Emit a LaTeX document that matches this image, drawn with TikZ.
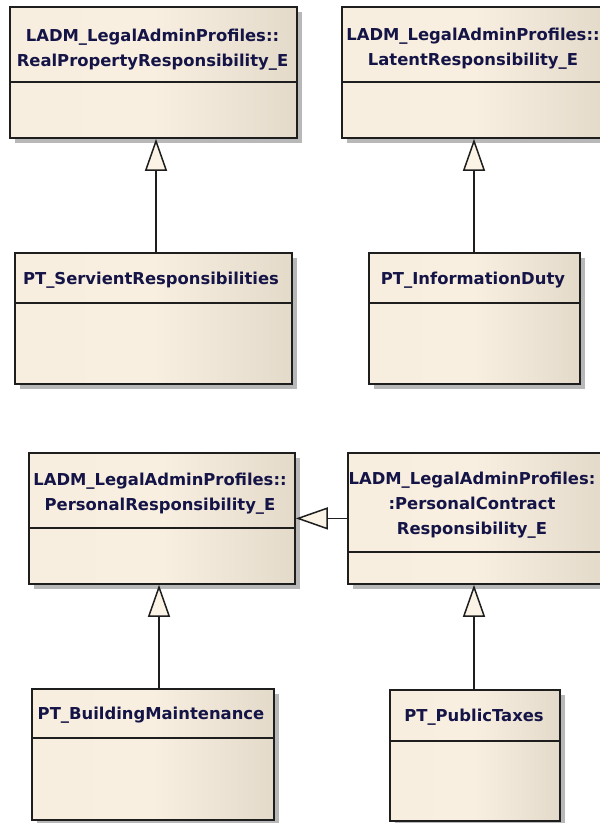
\documentclass[tikz,border=0pt]{standalone}
\usepackage{fontspec}
\setmainfont{DejaVu Sans}
\usetikzlibrary{arrows.meta,shadows,calc}
\definecolor{creamleft}{HTML}{F8EEDF}
\definecolor{creammid}{HTML}{F9EFE1}
\definecolor{creamdark}{HTML}{E4DACA}
\definecolor{tipfill}{HTML}{FBF3E6}
\definecolor{txt}{HTML}{141446}
\definecolor{shadowgray}{HTML}{B8B8B8}
\definecolor{edge}{HTML}{1E1E1E}
\begin{document}
\begin{tikzpicture}[x=1pt,y=-1pt,
  cls/.style={draw=edge, line width=1.8pt, left color=creamleft, right color=creamdark, middle color=creammid,
    anchor=north west, inner sep=0pt,
    drop shadow={shadow xshift=5pt, shadow yshift=-5pt, fill=shadowgray, opacity=1}},
  lbl/.style={text=txt, font=\fontsize{16.4}{25}\selectfont\bfseries, align=center, inner sep=0pt},
  divline/.style={draw=edge, line width=1.5pt},
  gen/.style={draw=edge, line width=1.5pt, -{Triangle[length=32pt,width=22pt,fill=tipfill]}}]
\useasboundingbox (0,0) rectangle (600,823);
\clip (0,0) rectangle (600,823);
% classes
\node[cls, minimum width=287pt, minimum height=131pt] (real) at (9,6) {};
\draw[divline] (9,82) -- (296,82);
\node[lbl] (realT) at (152.5,50) {LADM\_LegalAdminProfiles::\\RealPropertyResponsibility\_E};

\node[cls, minimum width=264pt, minimum height=131pt] (latent) at (341,6) {};
\draw[divline] (341,82) -- (605,82);
\node[lbl] (latentT) at (473,49) {LADM\_LegalAdminProfiles::\\LatentResponsibility\_E};

\node[cls, minimum width=277pt, minimum height=131pt] (serv) at (14,252) {};
\draw[divline] (14,303) -- (291,303);
\node[lbl] (servT) at (151,280) {PT\_ServientResponsibilities};

\node[cls, minimum width=211pt, minimum height=131pt] (info) at (368,252) {};
\draw[divline] (368,303) -- (579,303);
\node[lbl] (infoT) at (473,280) {PT\_InformationDuty};

\node[cls, minimum width=266pt, minimum height=131pt] (pr) at (28,452) {};
\draw[divline] (28,528) -- (294,528);
\node[lbl] (prT) at (160,494) {LADM\_LegalAdminProfiles::\\PersonalResponsibility\_E};

\node[cls, minimum width=255pt, minimum height=131pt] (pc) at (347,452) {};
\draw[divline] (347,552) -- (602,552);
\node[lbl] (pcT) at (472,505) {LADM\_LegalAdminProfiles:\\:PersonalContract\\Responsibility\_E};

\node[cls, minimum width=242pt, minimum height=131pt] (bm) at (31,688) {};
\draw[divline] (31,738) -- (273,738);
\node[lbl] (bmT) at (151,715) {PT\_BuildingMaintenance};

\node[cls, minimum width=170pt, minimum height=131pt] (tax) at (389,689) {};
\draw[divline] (389,741) -- (559,741);
\node[lbl] (taxT) at (474,717) {PT\_PublicTaxes};

% generalizations
\coordinate (xa) at (156,0);
\coordinate (xb) at (474,0);
\coordinate (xc) at (159,0);
\draw[gen] (serv.north -| xa) -- (real.south -| xa);
\draw[gen] (info.north -| xb) -- (latent.south -| xb);
\draw[gen] (bm.north -| xc) -- (pr.south -| xc);
\draw[gen] (tax.north -| xb) -- (pc.south -| xb);
\draw[gen] (pc.west |- pr.east) -- (pr.east);
\end{tikzpicture}
\end{document}
